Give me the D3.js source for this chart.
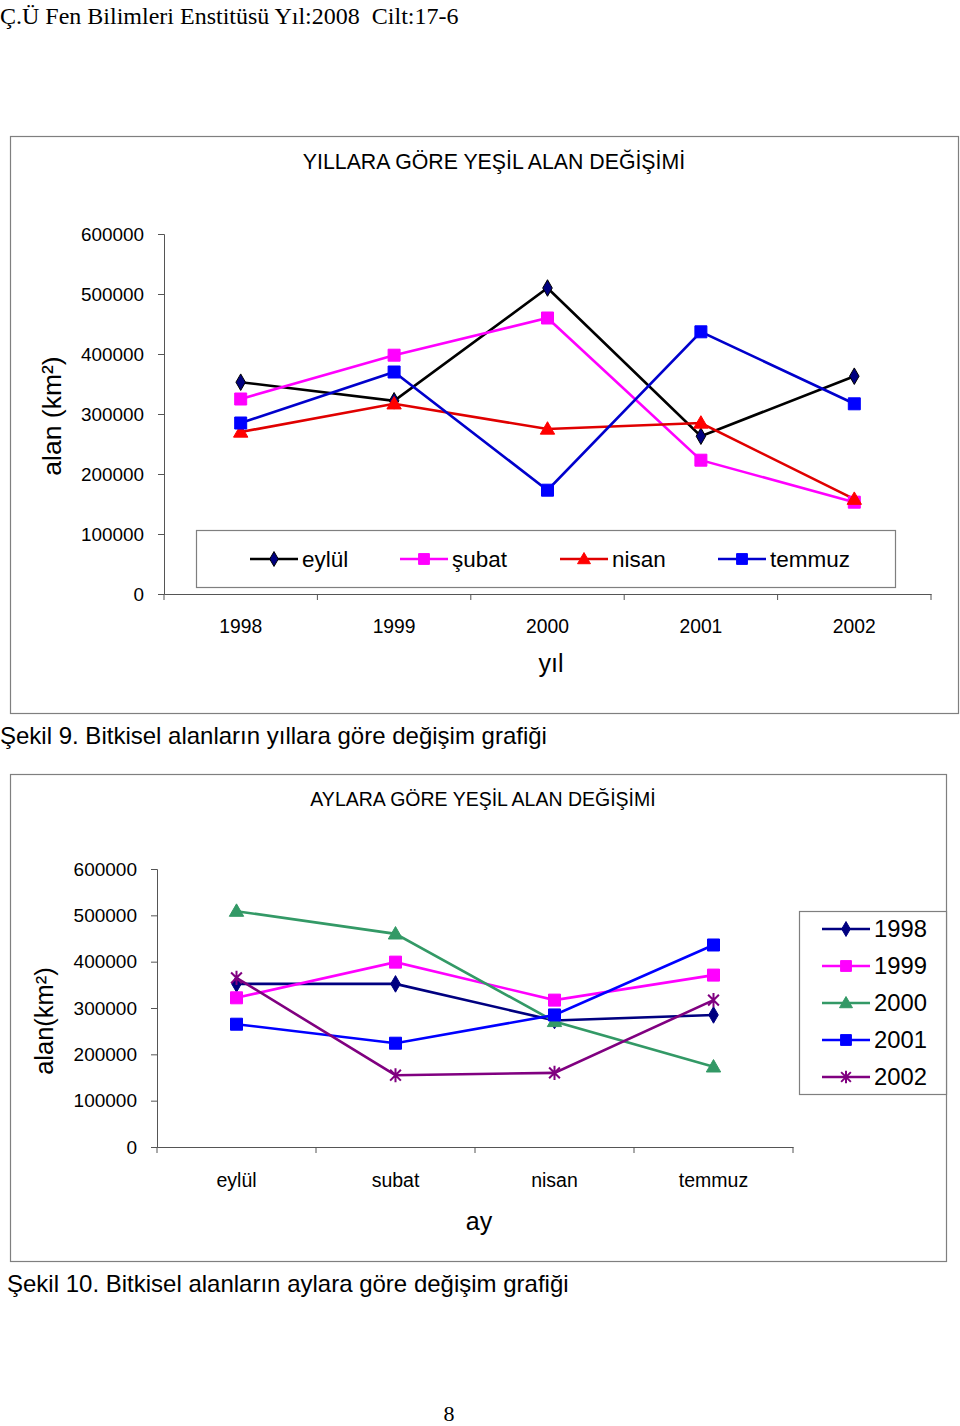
<!DOCTYPE html>
<html><head><meta charset="utf-8">
<script src="https://cdn.jsdelivr.net/npm/d3@7"></script>
<style>
body{margin:0;background:#fff;}
text{font-family:"Liberation Sans",Arial,sans-serif;fill:#000;}
</style></head>
<body>
<svg id="pg" width="960" height="1426"></svg>
<script>
// ---- Chart 1 data (by year) ----
const years = ["1998","1999","2000","2001","2002"];
const seriesNames1 = ["eylül","şubat","nisan","temmuz"];
const eylulVals  = [353000, 322000, 510000, 263000, 363000];
const subatVals  = [325000, 398000, 460000, 223000, 153000];
const nisanVals  = [270000, 317000, 275000, 285000, 158000];
const temmuzVals = [285000, 370000, 173000, 437000, 317000];
const yTicks = [0,100000,200000,300000,400000,500000,600000];

// ---- Chart 2 data (by month) ----
const months = ["eylül","subat","nisan","temmuz"];
const seriesNames2 = ["1998","1999","2000","2001","2002"];
const y1998 = [352000, 352000, 273000, 285000];
const y1999 = [322000, 399000, 317000, 371000];
const y2000 = [509000, 460000, 271000, 173000];
const y2001 = [265000, 224000, 285000, 436000];
const y2002 = [365000, 155000, 160000, 317000];

const svg = d3.select("#pg");
const font = '"Liberation Sans",Arial,sans-serif';

// header
svg.append("text").attr("x",0).attr("y",24).style("font-family",'"Liberation Serif","Times New Roman",serif')
  .style("font-size","24px").attr("xml:space","preserve").text("Ç.Ü Fen Bilimleri Enstitüsü Yıl:2008  Cilt:17-6");
svg.append("text").attr("x",449).attr("y",1421).attr("text-anchor","middle")
  .style("font-family",'"Liberation Serif","Times New Roman",serif').style("font-size","22px").text("8");

function starPath(s){const r=s; return `M${-r},${-r}L${r},${r}M${-r},${r}L${r},${-r}M0,${-r*1.3}L0,${r*1.3}`;}
function marker(g, type, x, y, color, stroke, size){
  if(type==="star"){
    g.append("path").attr("transform",`translate(${x},${y})`).attr("d",starPath(size*0.45))
      .attr("fill","none").attr("stroke",color).attr("stroke-width",2);
    return;
  }
  const sym = {diamond:d3.symbolDiamond, square:d3.symbolSquare, triangle:d3.symbolTriangle}[type];
  const area = type==="square"? size*size : type==="diamond"? size*size*0.55 : size*size*0.62;
  g.append("path").attr("transform",`translate(${x},${y+(type==="triangle"?1:0)})`)
    .attr("d",d3.symbol().type(sym).size(area)())
    .attr("fill",color).attr("stroke",stroke||color).attr("stroke-width",1);
}

function drawChart(cfg){
  const g = svg.append("g");
  g.append("rect").attr("x",cfg.box[0]+0.5).attr("y",cfg.box[1]+0.5).attr("width",cfg.box[2]).attr("height",cfg.box[3])
    .attr("fill","#fff").attr("stroke","#7f7f7f").attr("stroke-width",1.2);
  g.append("text").attr("x",cfg.titleX).attr("y",cfg.titleY).attr("text-anchor","middle")
    .style("font-size",cfg.titleSize+"px").text(cfg.title);
  const x = d3.scaleBand().domain(cfg.cats).range([cfg.x0,cfg.x1]).padding(0);
  const y = d3.scaleLinear().domain([0,600000]).range([cfg.y0,cfg.y1]);
  const ya = g.append("g").attr("transform",`translate(${cfg.x0},0)`)
    .call(d3.axisLeft(y).tickValues(yTicks).tickSize(6).tickPadding(cfg.tickPad).tickFormat(d3.format("d")));
  ya.selectAll("path,line").attr("stroke","#555");
  ya.selectAll("text").style("font-size",cfg.tickSize+"px").style("font-family",font).attr("fill","#000");
  const xa = g.append("g").attr("transform",`translate(0,${cfg.y0})`)
    .call(d3.axisBottom(x).tickSize(0).tickPadding(cfg.xPad));
  xa.selectAll("path").attr("stroke","#555");
  xa.selectAll("text").style("font-size",cfg.xTickSize+"px").style("font-family",font).attr("fill","#000");
  const bounds = cfg.cats.map(c=>x(c)).concat([x.range()[1]]);
  g.selectAll(null).data(bounds).enter().append("line")
    .attr("x1",d=>d).attr("x2",d=>d).attr("y1",cfg.y0).attr("y2",cfg.y0+6).attr("stroke","#555");
  g.append("text").attr("transform",`translate(${cfg.yTitleX},${cfg.yTitleY}) rotate(-90)`).attr("text-anchor","middle")
    .style("font-size",cfg.yTitleSize+"px").text(cfg.yTitle);
  g.append("text").attr("x",cfg.xTitleX).attr("y",cfg.xTitleY).attr("text-anchor","middle")
    .style("font-size","25px").text(cfg.xTitle);
  const line = d3.line().x((d,i)=>x(cfg.cats[i])+x.bandwidth()/2).y(d=>y(d));
  cfg.series.forEach(s=>{
    g.append("path").attr("d",line(s.vals)).attr("fill","none").attr("stroke",s.line).attr("stroke-width",2.6);
  });
  cfg.series.forEach(s=>{
    s.vals.forEach((v,i)=>marker(g,s.type,x(cfg.cats[i])+x.bandwidth()/2,y(v),s.color,s.stroke,cfg.mSize));
  });
  const L = cfg.legend;
  g.append("rect").attr("x",L.box[0]+0.5).attr("y",L.box[1]+0.5).attr("width",L.box[2]).attr("height",L.box[3])
    .attr("fill","#fff").attr("stroke","#7f7f7f").attr("stroke-width",1.2);
  cfg.series.forEach((s,i)=>{
    const lx = L.xs[i], ly = L.ys[i];
    g.append("line").attr("x1",lx-24).attr("x2",lx+24).attr("y1",ly).attr("y2",ly).attr("stroke",s.line).attr("stroke-width",2.6);
    marker(g,s.type,lx,ly,s.color,s.stroke,cfg.mSize*0.9);
    g.append("text").attr("x",lx+L.tdx).attr("y",ly).attr("dy","0.35em").style("font-size",L.size+"px").text(s.name);
  });
}

drawChart({
  box:[10,136,948,577], title:"YILLARA GÖRE YEŞİL ALAN DEĞİŞİMİ", titleX:494, titleY:169, titleSize:21.3,
  cats:years, x0:164, x1:931, y0:594, y1:234, tickPad:14, tickSize:18.9, xTickSize:19.3, xPad:25,
  yTitle:"alan (km²)", yTitleX:61, yTitleY:416, yTitleSize:26.5, xTitle:"yıl", xTitleX:551, xTitleY:672,
  mSize:12,
  series:[
    {name:seriesNames1[0], vals:eylulVals, line:"#000", color:"#000080", stroke:"#000", type:"diamond"},
    {name:seriesNames1[1], vals:subatVals, line:"#ff00ff", color:"#ff00ff", type:"square"},
    {name:seriesNames1[2], vals:nisanVals, line:"#e00000", color:"#ff0000", type:"triangle"},
    {name:seriesNames1[3], vals:temmuzVals, line:"#0000cc", color:"#0000ff", type:"square"}
  ],
  legend:{box:[196,530,699,57], xs:[274,424,584,742], ys:[559,559,559,559], tdx:28, size:22.5}
});

drawChart({
  box:[10,774,936,487], title:"AYLARA GÖRE YEŞİL ALAN DEĞİŞİMİ", titleX:483, titleY:806, titleSize:19.5,
  cats:months, x0:157, x1:793, y0:1147, y1:869, tickPad:14, tickSize:19, xTickSize:19.5, xPad:26,
  yTitle:"alan(km²)", yTitleX:53, yTitleY:1021, yTitleSize:25.5, xTitle:"ay", xTitleX:479, xTitleY:1230,
  mSize:12,
  series:[
    {name:seriesNames2[0], vals:y1998, line:"#000080", color:"#000080", type:"diamond"},
    {name:seriesNames2[1], vals:y1999, line:"#ff00ff", color:"#ff00ff", type:"square"},
    {name:seriesNames2[2], vals:y2000, line:"#339966", color:"#339966", type:"triangle"},
    {name:seriesNames2[3], vals:y2001, line:"#0000ff", color:"#0000ff", type:"square"},
    {name:seriesNames2[4], vals:y2002, line:"#800080", color:"#800080", type:"star"}
  ],
  legend:{box:[799,911,147,183], xs:[846,846,846,846,846], ys:[929,966,1003,1040,1077], tdx:28, size:23.8}
});

svg.append("text").attr("x",0).attr("y",744).style("font-size","24px").text("Şekil 9. Bitkisel alanların yıllara göre değişim grafiği");
svg.append("text").attr("x",7).attr("y",1292).style("font-size","24px").text("Şekil 10. Bitkisel alanların aylara göre değişim grafiği");
</script>
</body></html>
